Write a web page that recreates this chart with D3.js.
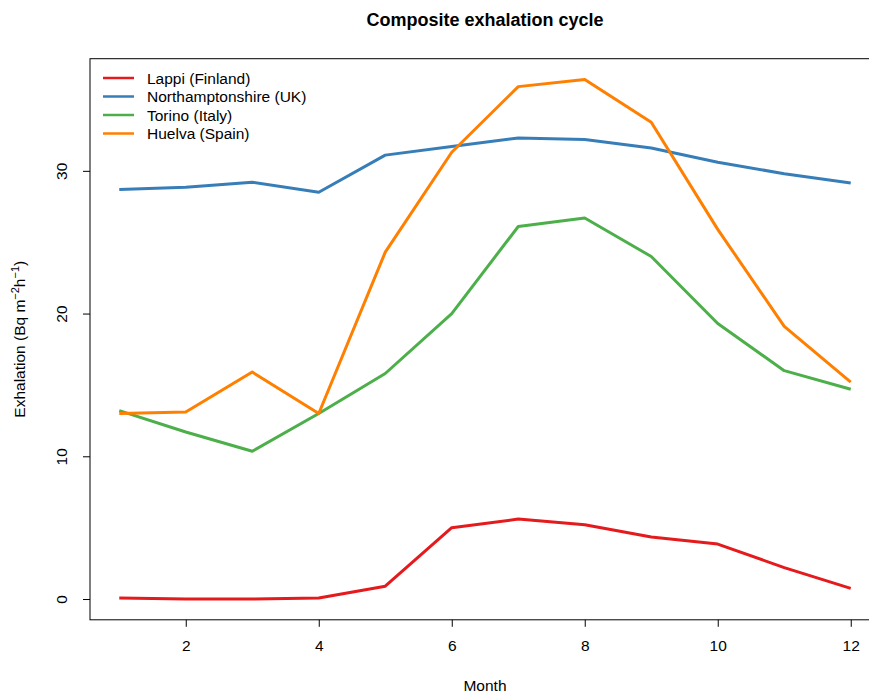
<!DOCTYPE html>
<html>
<head>
<meta charset="utf-8">
<script src="https://cdn.jsdelivr.net/npm/d3@7"></script>
<style>
  body { margin: 0; background: #fff; }
  svg text { font-family: "Liberation Sans", Arial, sans-serif; fill: #000; }
</style>
</head>
<body>
<svg id="chart" width="869" height="692"></svg>
<script>
// data
var months = [1, 2, 3, 4, 5, 6, 7, 8, 9, 10, 11, 12];
var lappi = [0.07, 0.0, 0.0, 0.07, 0.9, 5.0, 5.6, 5.2, 4.35, 3.85, 2.2, 0.75];
var northants = [28.7, 28.85, 29.2, 28.5, 31.1, 31.7, 32.3, 32.2, 31.6, 30.6, 29.8, 29.15];
var torino = [13.2, 11.7, 10.35, 13.0, 15.8, 20.0, 26.1, 26.7, 24.0, 19.3, 16.0, 14.7];
var huelva = [13.0, 13.1, 15.9, 13.0, 24.3, 31.3, 35.9, 36.4, 33.4, 25.9, 19.1, 15.2];
var seriesNames = ["Lappi (Finland)", "Northamptonshire (UK)", "Torino (Italy)", "Huelva (Spain)"];
var seriesColors = ["#e41a1c", "#377eb8", "#4daf4a", "#ff7f00"];
var xTicks = [2, 4, 6, 8, 10, 12];
var yTicks = [0, 10, 20, 30];

var series = [lappi, northants, torino, huelva];

var svg = d3.select("#chart");
var plot = { left: 90, right: 880, top: 58.7, bottom: 619.8 };
var fontSize = "15.5px";

// R style 4% padding on both axes
var xmin = 1, xmax = 12;
var ymin = 0, ymax = d3.max(series, function(s) { return d3.max(s); });
var xpad = (xmax - xmin) * 0.04, ypad = (ymax - ymin) * 0.04;

var x = d3.scaleLinear().domain([xmin - xpad, xmax + xpad]).range([plot.left, plot.right]);
var y = d3.scaleLinear().domain([ymin - ypad, ymax + ypad]).range([plot.bottom, plot.top]);

// box
svg.append("rect")
    .attr("x", plot.left).attr("y", plot.top)
    .attr("width", plot.right - plot.left).attr("height", plot.bottom - plot.top)
    .style("fill", "none").style("stroke", "#000").style("stroke-width", 1);

// x axis
var xAxis = svg.append("g")
    .attr("transform", "translate(0," + plot.bottom + ")")
    .call(d3.axisBottom(x).tickValues(xTicks).tickSize(7).tickPadding(13).tickFormat(d3.format("d")));
xAxis.select(".domain").remove();
xAxis.selectAll("line").style("stroke", "#000");
xAxis.selectAll("text").style("font-size", fontSize).style("font-family", "Liberation Sans, Arial, sans-serif");

// y axis, labels vertical like R
var yAxis = svg.append("g")
    .attr("transform", "translate(" + plot.left + ",0)")
    .call(d3.axisLeft(y).tickValues(yTicks).tickSize(7).tickFormat(d3.format("d")));
yAxis.select(".domain").remove();
yAxis.selectAll("line").style("stroke", "#000");
yAxis.selectAll("text")
    .attr("x", null).attr("dy", null)
    .style("text-anchor", "middle")
    .style("font-size", fontSize)
    .style("font-family", "Liberation Sans, Arial, sans-serif")
    .attr("transform", "translate(-23,0) rotate(-90)");

// lines
var line = d3.line()
    .x(function(d, i) { return x(months[i]); })
    .y(function(d) { return y(d); });

svg.selectAll("path.series")
    .data(series)
    .enter()
    .append("path")
    .attr("class", "series")
    .attr("d", line)
    .style("fill", "none")
    .style("stroke", function(d, i) { return seriesColors[i]; })
    .style("stroke-width", 3)
    .style("stroke-linejoin", "round");

// legend
var legend = svg.append("g").attr("transform", "translate(103,78)");
var items = legend.selectAll("g")
    .data(seriesNames)
    .enter()
    .append("g")
    .attr("transform", function(d, i) { return "translate(0," + (i * 18.5) + ")"; });
items.append("line")
    .attr("x1", 0).attr("x2", 31).attr("y1", 0).attr("y2", 0)
    .style("stroke", function(d, i) { return seriesColors[i]; })
    .style("stroke-width", 2.5);
items.append("text")
    .attr("x", 44).attr("y", 5.5)
    .style("font-size", fontSize)
    .text(function(d) { return d; });

// titles
svg.append("text")
    .attr("x", (plot.left + plot.right) / 2).attr("y", 26)
    .style("text-anchor", "middle")
    .style("font-size", "18px").style("font-weight", "bold")
    .text("Composite exhalation cycle");

svg.append("text")
    .attr("x", (plot.left + plot.right) / 2).attr("y", 691)
    .style("text-anchor", "middle")
    .style("font-size", fontSize)
    .text("Month");

var ylab = svg.append("text")
    .attr("transform", "translate(25," + ((plot.top + plot.bottom) / 2) + ") rotate(-90)")
    .style("text-anchor", "middle")
    .style("font-size", fontSize);
ylab.append("tspan").text("Exhalation (Bq m");
ylab.append("tspan").attr("dy", -6).style("font-size", "11px").text("\u22122");
ylab.append("tspan").attr("dy", 6).text("h");
ylab.append("tspan").attr("dy", -6).style("font-size", "11px").text("\u22121");
ylab.append("tspan").attr("dy", 6).text(")");
</script>
</body>
</html>
